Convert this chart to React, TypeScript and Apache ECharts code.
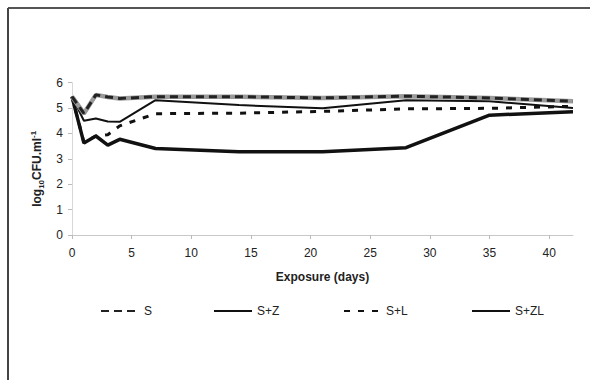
import React, { useEffect, useRef } from "react";
import * as echarts from "echarts";

const days = [0, 1, 2, 3, 4, 7, 14, 21, 28, 35, 42];
const sValues = [5.45, 4.79, 5.52, 5.44, 5.38, 5.45, 5.45, 5.4, 5.47, 5.4, 5.27];
const szValues = [5.45, 4.5, 4.59, 4.47, 4.46, 5.31, 5.12, 4.99, 5.31, 5.27, 5.0];
const slValues = [5.45, 3.65, 3.9, 3.95, 4.3, 4.78, 4.8, 4.87, 4.97, 4.99, 5.07];
const szlValues = [5.45, 3.62, 3.9, 3.54, 3.77, 3.41, 3.28, 3.28, 3.44, 4.72, 4.86];
const legendNames = ["S", "S+Z", "S+L", "S+ZL"];
const yTicks = { min: 0, max: 6, interval: 1 };
const xTicks = { min: 0, max: 42, interval: 5 };

const pairs = (vals: number[]) => days.map((d, i) => [d, vals[i]]);

export default function App() {
  const ref = useRef<HTMLDivElement>(null);
  useEffect(() => {
    if (!ref.current) return;
    const chart = echarts.init(ref.current, null, { renderer: "svg" });
    const font = "'Liberation Sans', Arial, sans-serif";
    const legendBase = {
      top: 305,
      padding: 0,
      itemHeight: 14,
      itemWidth: 38,
      itemStyle: { opacity: 0 },
      textStyle: { fontFamily: font, fontSize: 12, color: "#222" },
      selectedMode: false,
    };
    chart.setOption({
      animation: false,
      backgroundColor: "#fff",
      grid: { left: 72, right: 17, top: 82.7, bottom: 145, containLabel: false },
      legend: [
        { ...legendBase, left: 100, data: [legendNames[0]] },
        { ...legendBase, left: 213, data: [legendNames[1]] },
        { ...legendBase, left: 343, itemWidth: 37, data: [legendNames[2]] },
        { ...legendBase, left: 471, data: [legendNames[3]] },
      ],
      xAxis: {
        type: "value",
        min: xTicks.min,
        max: xTicks.max,
        interval: xTicks.interval,
        name: "Exposure (days)",
        nameLocation: "middle",
        nameGap: 36,
        nameTextStyle: { fontFamily: font, fontSize: 12, fontWeight: "bold", color: "#222" },
        axisLine: { lineStyle: { color: "#c8c8c8", width: 1 } },
        axisTick: { show: true, length: 4, lineStyle: { color: "#bbb" } },
        axisLabel: {
          fontFamily: font,
          fontSize: 12,
          color: "#222",
          margin: 12,
          showMaxLabel: false,
          formatter: (v: number) => (v % 5 === 0 ? String(v) : ""),
        },
        splitLine: { show: false },
      },
      yAxis: {
        type: "value",
        min: yTicks.min,
        max: yTicks.max,
        interval: yTicks.interval,
        name: "{a|log}{b|10}{a|CFU.ml}{c|-1}",
        nameLocation: "middle",
        nameRotate: 90,
        nameGap: 24,
        nameTextStyle: {
          fontFamily: font,
          color: "#222",
          padding: [0, 0, 0, -20],
          rich: {
            a: { fontFamily: font, fontSize: 12, fontWeight: "bold", color: "#222", lineHeight: 16 },
            b: { fontFamily: font, fontSize: 8, fontWeight: "bold", color: "#222", lineHeight: 8, verticalAlign: "bottom" },
            c: { fontFamily: font, fontSize: 8, fontWeight: "bold", color: "#222", lineHeight: 8, verticalAlign: "top" },
          },
        },
        axisLine: { show: true, lineStyle: { color: "#d8d8d8", width: 1 } },
        axisTick: { show: true, length: 4, lineStyle: { color: "#bbb" } },
        axisLabel: { fontFamily: font, fontSize: 12, color: "#222", margin: 9 },
        splitLine: { show: false },
      },
      series: [
        {
          name: "S",
          type: "line",
          data: pairs(sValues),
          symbol: "none",
          z: 4,
          lineStyle: { color: "#222", width: 3, type: [8, 5] },
          itemStyle: { color: "#222" },
        },
        {
          name: "S",
          type: "line",
          data: pairs(sValues),
          symbol: "none",
          z: 3,
          lineStyle: { color: "#9a9a9a", width: 4.5 },
          itemStyle: { color: "#9a9a9a" },
        },
        {
          name: "S+Z",
          type: "line",
          data: pairs(szValues),
          symbol: "none",
          z: 2,
          lineStyle: { color: "#111", width: 2 },
          itemStyle: { color: "#111" },
        },
        {
          name: "S+L",
          type: "line",
          data: pairs(slValues),
          symbol: "none",
          z: 2,
          lineStyle: { color: "#111", width: 3, type: [6, 8] },
          itemStyle: { color: "#111" },
        },
        {
          name: "S+ZL",
          type: "line",
          data: pairs(szlValues),
          symbol: "none",
          z: 2,
          lineStyle: { color: "#111", width: 3.5 },
          itemStyle: { color: "#111" },
        },
      ],
      graphic: [
        { type: "line", shape: { x1: 8, y1: 8, x2: 590, y2: 8 }, style: { stroke: "#555", lineWidth: 2 } },
        { type: "line", shape: { x1: 8, y1: 8, x2: 8, y2: 380 }, style: { stroke: "#444", lineWidth: 2 } },
      ],
    });
    return () => chart.dispose();
  }, []);
  return <div ref={ref} style={{ width: 590, height: 380, position: "fixed", left: 0, top: 0 }} />;
}
